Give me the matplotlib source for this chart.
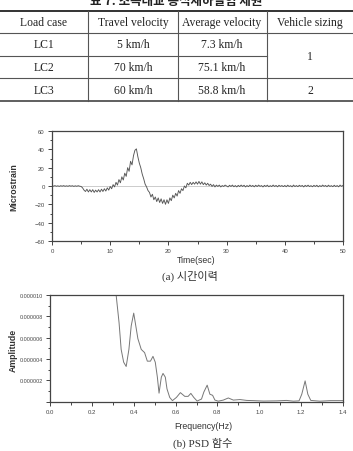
import matplotlib
matplotlib.use("Agg")
import matplotlib.pyplot as plt
from matplotlib.lines import Line2D
from matplotlib.ticker import MultipleLocator, FuncFormatter

W, H = 353, 452

# ---------------- data ----------------
title_text = "표 7. 조목대교 동적재하실험 제원"
table_header = ["Load case", "Travel velocity", "Average velocity", "Vehicle sizing"]
load_cases = ["LC1", "LC2", "LC3"]
travel_velocity = ["5 km/h", "70 km/h", "60 km/h"]
average_velocity = ["7.3 km/h", "75.1 km/h", "58.8 km/h"]
vehicle_sizing = ["1", "2"]  # 1 spans LC1-LC2

time_step = 0.25
strain_values = [
    # 0-5 s
    0.3, -0.2, 0.4, -0.3, 0.2, -0.4, 0.3, -0.2, 0.4, -0.3, 0.2, -0.3, 0.4, -0.2, 0.3, -0.4, 0.2, -0.3, 0.3, -0.2,
    # 5-10 s
    -0.5, -2, -4.5, -6, -3.5, -6.5, -4, -6.5, -4, -7, -4.5, -6.5, -4, -6.5, -3.5, -6, -3, -5.5, -2, -4.5,
    # 10-15 s
    -0.5, -3, 1.5, -1, 4, 1, 7, 3.5, 10, 6.5, 14, 10.5, 20, 16, 27, 23, 33, 39, 40.5, 32,
    # 15-20 s
    25, 20, 13, 8, 2, -1, -5, -7, -12, -9, -15, -12, -17, -13, -18, -14, -19, -15, -20, -15,
    # 20-25 s
    -19, -13, -16, -10, -13, -8, -11, -5, -8, -3, -5, 0, -2, 3, 1, 4, 1.5, 4, 2, 4.5,
    # 25-30 s
    2, 5, 2, 4.5, 1.5, 3.5, 1, 3, 0.5, 2, -0.5, 1.5, -1, 1, -0.5, 1, -1, 0.5, -0.5, 1,
    # 30-35 s
    0, -1, 0.8, -0.5, 1, -0.8, 0.5, -1, 0.7, -0.6, 1, -0.5, 0.8, -1, 0.5, -0.7, 1, -0.5, 0.6, -0.9,
    # 35-40 s
    0.8, -0.6, 1, -0.4, 0.5, -1, 0.7, -0.5, 0.9, -0.8, 0.4, -0.6, 1, -0.5, 0.6, -0.9, 0.8, -0.4, 0.5, -0.7,
    # 40-45 s
    0.6, -0.8, 0.9, -0.5, 0.4, -0.9, 1, -0.6, 0.5, -0.7, 0.8, -0.4, 0.6, -1, 0.7, -0.5, 0.9, -0.6, 0.4, -0.8,
    # 45-50 s
    0.7, -0.5, 0.8, -0.9, 0.5, -0.6, 1, -0.4, 0.6, -0.8, 0.9, -0.5, 0.4, -0.7, 0.8, -0.6, 0.5, -0.9, 1, -0.4,
    0.6,
]
time_values = [i * time_step for i in range(len(strain_values))]

freq_values = [0.30, 0.316, 0.33, 0.34, 0.352, 0.364, 0.377, 0.388, 0.40, 0.41, 0.42, 0.436,
               0.452, 0.465, 0.48, 0.492, 0.503, 0.513, 0.521, 0.532, 0.54, 0.551, 0.559,
               0.572, 0.585, 0.604, 0.623, 0.644, 0.66, 0.673, 0.687, 0.703, 0.724, 0.735,
               0.751, 0.764, 0.777, 0.788, 0.804, 0.828, 0.852, 0.876, 0.908, 0.94, 0.972,
               1.02, 1.084, 1.13, 1.163, 1.19, 1.203, 1.219, 1.232, 1.246, 1.29, 1.34, 1.40]
psd_values_e6 = [12.5, 10.0, 7.4, 4.9, 3.7, 3.3, 4.9, 7.1, 8.3, 7.1, 5.9, 4.9,
                 4.6, 3.8, 3.8, 4.25, 3.7, 2.3, 0.8, 2.3, 2.65, 2.3, 1.2,
                 0.4, 0.1, 0.4, 0.85, 0.5, 0.5, 0.78, 0.4, 0.06, 0.25, 0.9,
                 1.55, 0.7, 0.6, 0.15, 0.05, 0.15, 0.35, 0.15, 0.2, 0.12, 0.1,
                 0.06, 0.08, 0.12, 0.05, 0.08, 0.7, 1.95, 0.7, 0.12, 0.05, 0.1, 0.1]
psd_values = [v * 1e-6 for v in psd_values_e6]

caption_a = "(a) 시간이력"
caption_b = "(b) PSD 함수"

# ---------------- figure ----------------
fig = plt.figure(figsize=(W / 100, H / 100), dpi=100)
fig.patch.set_facecolor("white")

def fx(x):
    return x / W

def fy(y):
    return 1 - y / H

serif = ["Liberation Serif", "DejaVu Serif"]
kor_serif = ["Liberation Serif", "Noto Sans CJK KR"]
sans = ["Liberation Sans", "DejaVu Sans"]

# title (its upper half lies above the page edge, as in the reference)
fig.text(fx(176), fy(1.5), title_text, ha="center", va="center", fontsize=9,
         family=["Noto Sans CJK KR", "DejaVu Sans"], fontweight="bold", color="#222222")

# table lines
def hline(y, x0, x1, lw=0.8, c="#555555"):
    fig.add_artist(Line2D([fx(x0), fx(x1)], [fy(y), fy(y)], lw=lw, color=c))

def vline(x, y0, y1, lw=0.8, c="#555555"):
    fig.add_artist(Line2D([fx(x), fx(x)], [fy(y0), fy(y1)], lw=lw, color=c))

hline(11.8, 0, W, lw=1.4, c="#333333")
hline(34, 0, W)
hline(56.7, 0, 267)
hline(79, 0, W)
hline(101.5, 0, W, lw=1.2, c="#444444")
for xv in (88, 177.5, 267):
    vline(xv, 11.8, 101.5)

col_centers = [44, 133, 222, 310]
row_centers = [23, 45.5, 68, 90.5]
for cx, txt in zip(col_centers, table_header):
    fig.text(fx(cx), fy(row_centers[0]), txt, ha="center", va="center", fontsize=8.4,
             family=serif, color="#222222")
for i in range(3):
    for cx, txt in zip(col_centers[:3], [load_cases[i], travel_velocity[i], average_velocity[i]]):
        fig.text(fx(cx), fy(row_centers[i + 1]), txt, ha="center", va="center", fontsize=8.4,
                 family=serif, color="#222222")
fig.text(fx(col_centers[3]), fy((34 + 79) / 2), vehicle_sizing[0], ha="center", va="center",
         fontsize=8.4, family=serif, color="#222222")
fig.text(fx(col_centers[3]), fy(row_centers[3]), vehicle_sizing[1], ha="center", va="center",
         fontsize=8.4, family=serif, color="#222222")

def style_axes(ax, labelsize=4.3):
    for s in ax.spines.values():
        s.set_color("#444444")
        s.set_linewidth(0.9)
    ax.tick_params(which="both", direction="out", colors="#444444", labelcolor="#444444",
                   labelsize=labelsize, width=0.7)
    ax.tick_params(which="major", length=3, pad=2.2)
    ax.tick_params(which="minor", length=1.8)
    for lab in ax.get_xticklabels() + ax.get_yticklabels():
        lab.set_family(sans)

# ---------------- chart 1 ----------------
ax1 = fig.add_axes([fx(52), fy(242), (343 - 52) / W, (242 - 132) / H])
ax1.axhline(0, color="#cccccc", lw=0.7, zorder=1)
ax1.plot(time_values, strain_values, color="#555555", lw=0.65, zorder=2)
ax1.set_xlim(0, 50)
ax1.set_ylim(-60, 60)
ax1.xaxis.set_major_locator(MultipleLocator(10))
ax1.xaxis.set_minor_locator(MultipleLocator(5))
ax1.yaxis.set_major_locator(MultipleLocator(20))
ax1.yaxis.set_minor_locator(MultipleLocator(10))
style_axes(ax1)
fig.text(fx(14), fy(187), "Microstrain", rotation=90, ha="center", va="center",
         fontsize=6.3, family=sans, fontweight="bold", color="#333333")
fig.text(fx(196), fy(261), "Time(sec)", ha="center", va="center",
         fontsize=6.3, family=sans, color="#333333")
fig.text(fx(190), fy(276), caption_a, ha="center", va="center",
         fontsize=8, family=kor_serif, color="#333333")

# ---------------- chart 2 ----------------
ax2 = fig.add_axes([fx(50), fy(402.7), (343 - 50) / W, (402.7 - 296) / H])
ax2.plot(freq_values, psd_values, color="#777777", lw=0.7)
ax2.set_xlim(0, 1.4)
ax2.set_ylim(0, 1e-5)
ax2.xaxis.set_major_locator(MultipleLocator(0.2))
ax2.xaxis.set_minor_locator(MultipleLocator(0.1))
ax2.yaxis.set_major_locator(MultipleLocator(2e-6))
ax2.yaxis.set_minor_locator(MultipleLocator(1e-6))
ax2.xaxis.set_major_formatter(FuncFormatter(lambda v, p: f"{v:.1f}"))
ax2.yaxis.set_major_formatter(FuncFormatter(lambda v, p: "" if abs(v) < 1e-9 else f"{v:.6f}"))
style_axes(ax2)
ax2.tick_params(axis="y", labelsize=3.9, pad=1.8)
fig.text(fx(13), fy(350), "Amplitude", rotation=90, ha="center", va="center",
         fontsize=6.3, family=sans, fontweight="bold", color="#333333")
fig.text(fx(203), fy(426.5), "Frequency(Hz)", ha="center", va="center",
         fontsize=6.3, family=sans, color="#333333")
fig.text(fx(203), fy(443), caption_b, ha="center", va="center",
         fontsize=8, family=kor_serif, color="#333333")

fig.savefig("out.png", dpi=100, facecolor="white")
